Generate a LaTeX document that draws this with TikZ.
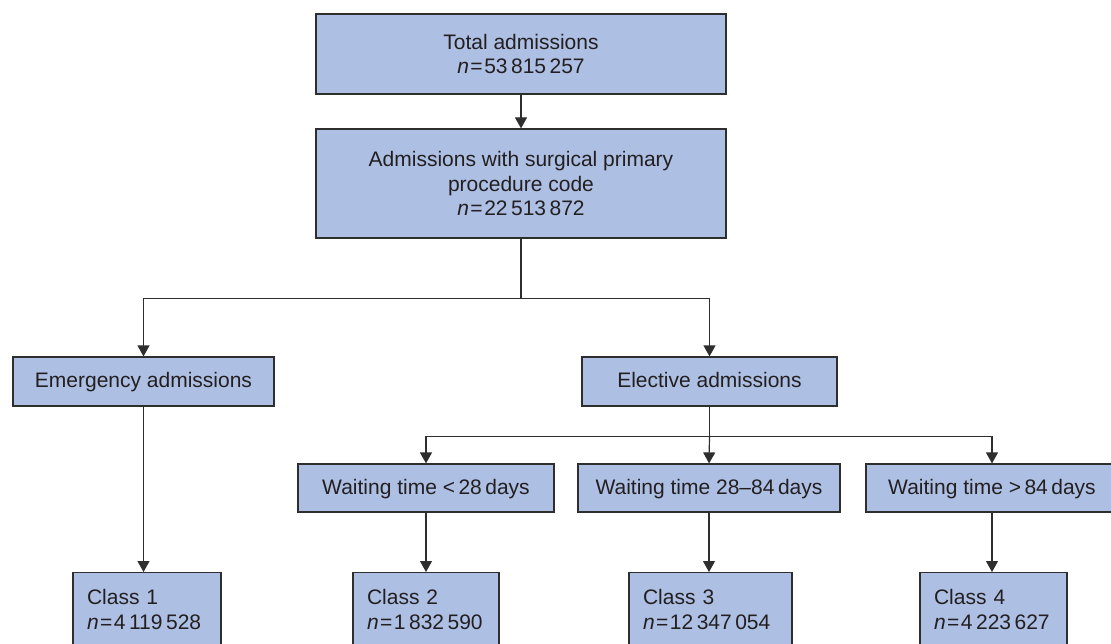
\documentclass[tikz,border=0pt]{standalone}
\usepackage{fontspec}
\setmainfont{Liberation Sans}
\usetikzlibrary{arrows.meta}
\definecolor{boxfill}{HTML}{ADBFE3}
\definecolor{boxline}{HTML}{2E2E2E}
\definecolor{txt}{HTML}{231F20}
\newcommand{\nval}[1]{\textit{n}\kern1.5pt=\kern1.5pt#1}
\begin{document}
\begin{tikzpicture}[x=1pt,y=-1pt,
  box/.style={draw=boxline, fill=boxfill, line width=1.2pt, text=txt,
    font=\fontsize{21}{24.8}\selectfont, align=center, inner sep=0pt},
  onebox/.style={box, text height=15.5pt, text depth=3pt},
  classbox/.style={box, align=left, anchor=north, text width=#1,
    inner xsep=14pt, inner ysep=17pt},
  conn/.style={draw=boxline, line width=1.2pt},
  arr/.style={conn, -{Triangle[width=12pt,length=11pt]}}]
\useasboundingbox (0,0) rectangle (1111,644);
\clip (0,0) rectangle (1111,644);
\node[box, minimum width=410pt, minimum height=80pt] (tot) at (521,54)
  {Total admissions\\\nval{53\,815\,257}};
\node[box, minimum width=410pt, minimum height=109pt] (adm) at (521,183.5)
  {Admissions with surgical primary\\procedure code\\\nval{22\,513\,872}};
\node[onebox, minimum width=261pt, minimum height=49pt] (emg) at (143.5,381.5)
  {Emergency admissions};
\node[onebox, minimum width=255pt, minimum height=49pt] (ele) at (709.5,381.5)
  {Elective admissions};
\node[onebox, minimum width=256pt, minimum height=48pt] (w1) at (426,488)
  {Waiting time <\,28\,days};
\node[onebox, minimum width=262pt, minimum height=48pt] (w2) at (709,488)
  {Waiting time 28–84\,days};
\node[onebox, minimum width=252pt, minimum height=48pt] (w3) at (992,488)
  {Waiting time >\,84\,days};
\node[classbox=120pt] (c1) at (147,572) {Class 1\\\nval{4\,119\,528}};
\node[classbox=118pt] (c2) at (426,572) {Class 2\\\nval{1\,832\,590}};
\node[classbox=135pt] (c3) at (710.5,572) {Class 3\\\nval{12\,347\,054}};
\node[classbox=119pt] (c4) at (993.5,572) {Class 4\\\nval{4\,223\,627}};
\draw[arr] (tot) -- (adm);
\path (adm.south) ++(0,60) coordinate (j1);
\draw[conn] (adm.south) -- (j1);
\draw[arr] (j1) -| (emg.north);
\draw[arr] (j1) -| (ele.north);
\path (ele.south) ++(0,30) coordinate (j2);
\draw[conn] (ele.south) -- (j2);
\draw[arr] (j2) -| (w1.north);
\draw[arr] (j2) -- (w2.north);
\draw[arr] (j2) -| (w3.north);
\draw[arr] (emg.south) -- (emg.south |- c1.north);
\draw[arr] (w1.south) -- (w1.south |- c2.north);
\draw[arr] (w2.south) -- (w2.south |- c3.north);
\draw[arr] (w3.south) -- (w3.south |- c4.north);
\end{tikzpicture}
\end{document}
